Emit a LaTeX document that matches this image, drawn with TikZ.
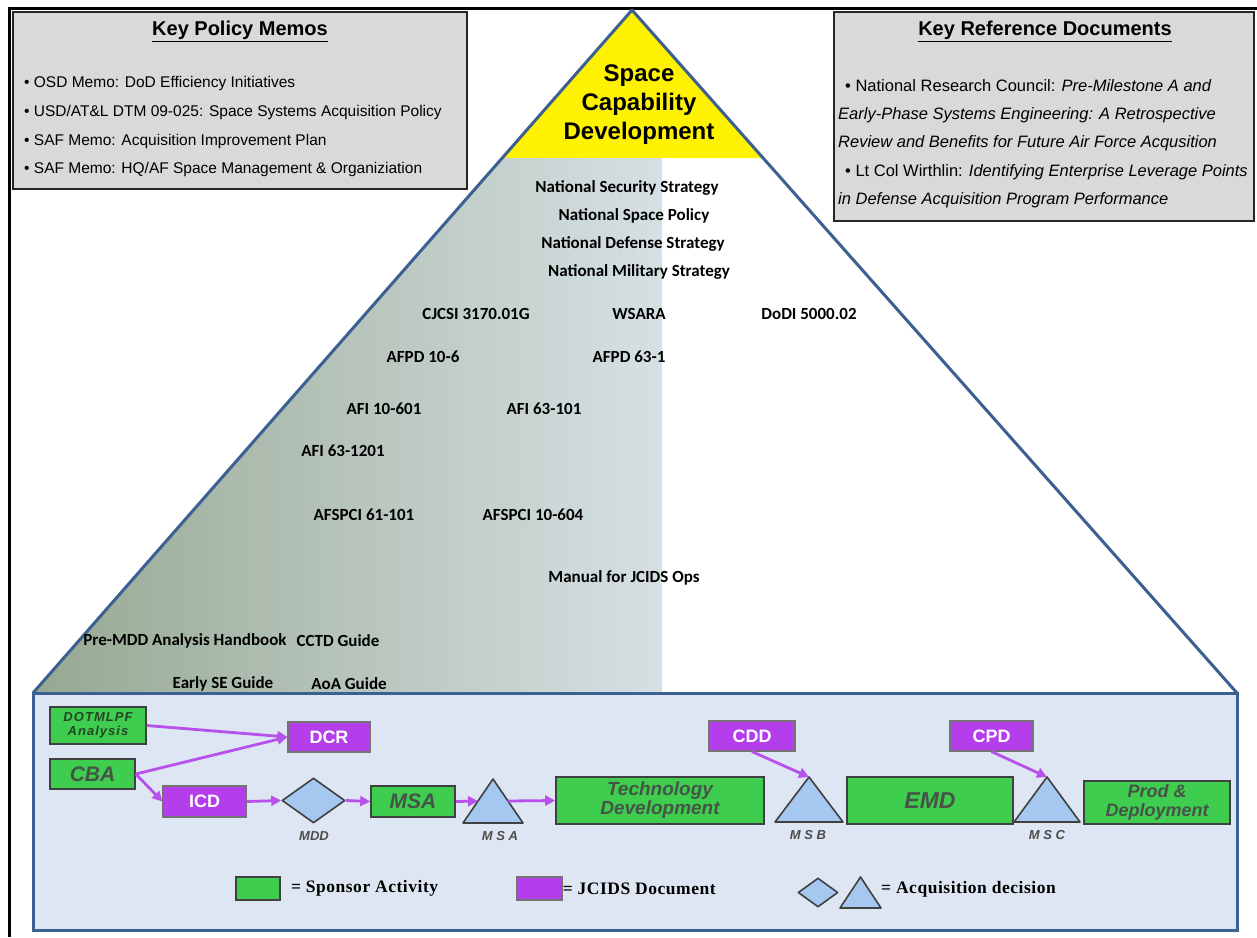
\documentclass[tikz,border=0pt]{standalone}
\usepackage{fontspec}
\setmainfont{Liberation Sans}
\newfontfamily\docfont{Carlito}
\newfontfamily\keyfont[LetterSpace=3]{Liberation Serif}
\newfontfamily\widefont[LetterSpace=8]{Liberation Sans}
\usetikzlibrary{shapes.geometric, arrows.meta, positioning, calc}

\definecolor{memogray}{RGB}{217,217,217}
\definecolor{pyrblue}{RGB}{60,96,145}
\definecolor{shadeL}{RGB}{150,168,145}
\definecolor{shadeR}{RGB}{214,224,228}
\definecolor{panelblue}{RGB}{221,230,242}
\definecolor{sponsorgreen}{RGB}{62,205,78}
\definecolor{sponsortext}{RGB}{70,84,72}
\definecolor{jcidspurple}{RGB}{180,62,235}
\definecolor{flowpurple}{RGB}{184,80,235}
\definecolor{decisionblue}{RGB}{166,200,240}

\tikzstyle{memobox} = [draw=black!85, line width=2pt, fill=memogray]
\tikzstyle{memoline} = [anchor=west, inner sep=0pt, text height=11pt, text depth=3pt, font=\fontsize{15.5}{15.5}\selectfont]
\tikzstyle{refline} = [memoline, font=\fontsize{16.5}{16.5}\selectfont]
\tikzstyle{memohead} = [inner sep=0pt, font=\bfseries\fontsize{20}{20}\selectfont]
\tikzstyle{doc} = [inner sep=0pt, font=\docfont\bfseries\fontsize{17}{17}\selectfont]
\tikzstyle{sponsor} = [draw=black!75, line width=1.6pt, fill=sponsorgreen, text=sponsortext, inner sep=0pt, align=center]
\tikzstyle{jcids} = [draw=black!55, line width=1.2pt, fill=jcidspurple, text=white, inner sep=0pt, font=\bfseries\fontsize{18}{18}\selectfont]
\tikzstyle{decision} = [draw=black!75, line width=1.6pt, fill=decisionblue, line join=round]
\tikzstyle{mslabel} = [text=black!70, inner sep=0pt, font=\bfseries\itshape\fontsize{13}{13}\selectfont]
\tikzstyle{keytext} = [anchor=west, inner sep=0pt, font=\keyfont\bfseries\fontsize{17.5}{17.5}\selectfont]
\tikzstyle{flow} = [draw=flowpurple, line width=2.8pt, -{Triangle[length=10pt,width=10pt]}]

\begin{document}
\begin{tikzpicture}[x=1pt, y=-1pt]
    \useasboundingbox (0,0) rectangle (1257,937);
    \fill[white] (0,0) rectangle (1257,937);
    \draw[line width=3pt] (1257,8) -- (9,8) -- (9,937);

    % pyramid
    \coordinate (apex) at (632,10);
    \coordinate (baseL) at (33,693);
    \coordinate (baseR) at (1237,693);
    \coordinate (capL) at ($(apex)!0.21669!(baseL)$);
    \coordinate (capR) at ($(apex)!0.21669!(baseR)$);
    \fill[yellow] (apex) -- (capL) -- (capR) -- cycle;
    \shade[left color=shadeL, right color=shadeR] (capL) -- (662,158) -- (662,693) -- (baseL) -- cycle;
    \draw[pyrblue, line width=3pt, fill=panelblue] (baseL) rectangle (1237,930);
    \draw[pyrblue, line width=3pt, line join=round] (baseL) -- (apex) -- (baseR);

    \node[align=center, font=\bfseries\fontsize{24}{29}\selectfont] (title) at (639,105) {Space\\Capability\\Development};

    \node[doc] (nss) at (627,188) {National Security Strategy};
    \node[doc] (nsp) at (634,216) {National Space Policy};
    \node[doc] (nds) at (633,244) {National Defense Strategy};
    \node[doc] (nms) at (639,272) {National Military Strategy};
    \node[doc] (cjcsi) at (476,314) {CJCSI 3170.01G};
    \node[doc] (wsara) at (639,314) {WSARA};
    \node[doc] (dodi) at (809,314) {DoDI 5000.02};
    \node[doc] (afpd106) at (423,357) {AFPD 10-6};
    \node[doc] (afpd631) at (629,357) {AFPD 63-1};
    \node[doc] (afi10601) at (384,409) {AFI 10-601};
    \node[doc] (afi63101) at (544,409) {AFI 63-101};
    \node[doc] (afi631201) at (343,451) {AFI 63-1201};
    \node[doc] (afspci61) at (364,515) {AFSPCI 61-101};
    \node[doc] (afspci10) at (533,515) {AFSPCI 10-604};
    \node[doc] (manual) at (624,578) {Manual for JCIDS Ops};
    \node[doc] (premdd) at (185,641) {Pre-MDD Analysis Handbook};
    \node[doc] (cctd) at (338,641) {CCTD Guide};
    \node[doc] (earlyse) at (223,684) {Early SE Guide};
    \node[doc] (aoa) at (349,684) {AoA Guide};

    % memo boxes
    \node[memobox, anchor=north west, minimum width=454pt, minimum height=177pt] (memos) at (12,11) {};
    \node[memohead] (memoshead) at (240,31) {\underline{Key Policy Memos}};
    \node[memoline] (memo1) at (24,83) {• OSD Memo: DoD Efficiency Initiatives};
    \node[memoline, below=29pt of memo1.west, anchor=west] (memo2) {• USD/AT\&L DTM 09-025: Space Systems Acquisition Policy};
    \node[memoline, below=29pt of memo2.west, anchor=west] (memo3) {• SAF Memo: Acquisition Improvement Plan};
    \node[memoline, below=28pt of memo3.west, anchor=west] (memo4) {• SAF Memo: HQ/AF Space Management \& Organiziation};

    \node[memobox, anchor=north west, minimum width=420pt, minimum height=209pt] (refs) at (833,11) {};
    \node[memohead] (refshead) at (1045,31) {\underline{Key Reference Documents}};
    \node[refline] (ref1) at (845,87) {• National Research Council: \textit{Pre-Milestone A and}};
    \node[refline] (ref2) at (838,115) {\textit{Early-Phase Systems Engineering: A Retrospective}};
    \node[refline] (ref3) at (838,143) {\textit{Review and Benefits for Future Air Force Acqusition}};
    \node[refline] (ref4) at (845,172) {• Lt Col Wirthlin: \textit{Identifying Enterprise Leverage Points}};
    \node[refline] (ref5) at (838,200) {\textit{in Defense Acquisition Program Performance}};

    % process
    \node[sponsor, minimum width=96pt, minimum height=37pt, text=sponsortext!80!green!60!black, font=\widefont\bfseries\itshape\fontsize{13}{14}\selectfont] (dotmlpf) at (98,725.5) {DOTMLPF\\Analysis};
    \node[sponsor, minimum width=85pt, minimum height=30pt, font=\bfseries\itshape\fontsize{21}{21}\selectfont] (cba) at (92.5,774) {CBA};
    \node[jcids, minimum width=82pt, minimum height=30pt] (dcr) at (329,737) {DCR};
    \node[jcids, minimum width=83pt, minimum height=31pt] (icd) at (204.5,801.5) {ICD};
    \node[decision, diamond, minimum width=63pt, minimum height=45pt, inner sep=0pt] (mdd) at (313.5,800.5) {};
    \node[mslabel] (mddlabel) at (314,836) {MDD};
    \node[sponsor, minimum width=84pt, minimum height=31pt, font=\bfseries\itshape\fontsize{21}{21}\selectfont] (msa) at (413,801.5) {MSA};
    \path[decision] (463,823) coordinate (msA-l) -- (493,779) coordinate (msA) -- (523,823) coordinate (msA-r) -- cycle;
    \coordinate (msA-in) at ($(msA-l)!0.5!(msA)$);
    \coordinate (msA-out) at ($(msA)!0.5!(msA-r)$);
    \node[mslabel] (msAlabel) at (500,836) {M S A};
    \node[sponsor, minimum width=208pt, minimum height=47pt, font=\bfseries\itshape\fontsize{19}{19}\selectfont] (tech) at (660,800.5) {Technology\\Development};
    \node[jcids, minimum width=86pt, minimum height=30pt] (cdd) at (752,736) {CDD};
    \path[decision] (775,822) -- (809,777) coordinate (msB) -- (843,822) -- cycle;
    \node[mslabel] (msBlabel) at (808,835) {M S B};
    \node[sponsor, minimum width=166pt, minimum height=47pt, font=\bfseries\itshape\fontsize{23}{23}\selectfont] (emd) at (930,800.5) {EMD};
    \node[jcids, minimum width=83pt, minimum height=30pt] (cpd) at (991.5,736) {CPD};
    \path[decision] (1014,822) -- (1047,777) coordinate (msC) -- (1080,822) -- cycle;
    \node[mslabel] (msClabel) at (1047,835) {M S C};
    \node[sponsor, minimum width=146pt, minimum height=43pt, font=\bfseries\itshape\fontsize{18}{19}\selectfont] (prod) at (1157,802.5) {Prod \&\\Deployment};

    \draw[flow] (dotmlpf.east) -- (dcr.west);
    \draw[flow] (cba.east) -- (dcr.west);
    \draw[flow] (cba.east) -- (icd.west);
    \draw[flow] (icd.east) -- (mdd.west);
    \draw[flow] (mdd.east) -- (msa.west);
    \draw[flow] (msa.east) -- (msA-in);
    \draw[flow] (msA-out) -- (tech.west);
    \draw[flow] (cdd.south) -- (msB);
    \draw[flow] (cpd.south) -- (msC);

    % key
    \node[sponsor, minimum width=44pt, minimum height=23pt] (keysponsor) at (258,888.5) {};
    \node[keytext, right=10pt of keysponsor] (keysponsortext) {= Sponsor Activity};
    \node[jcids, minimum width=45pt, minimum height=23pt] (keyjcids) at (539.5,888.5) {};
    \node[keytext, right=0pt of keyjcids] (keyjcidstext) {= JCIDS Document};
    \node[decision, diamond, minimum width=40pt, minimum height=29pt, inner sep=0pt] (keydiamond) at (818,892.5) {};
    \path[decision] (840,908) -- (860.5,877) coordinate (keytri) -- (881,908) -- cycle;
    \node[keytext] (keydecisiontext) at (881,889) {= Acquisition decision};
\end{tikzpicture}
\end{document}
